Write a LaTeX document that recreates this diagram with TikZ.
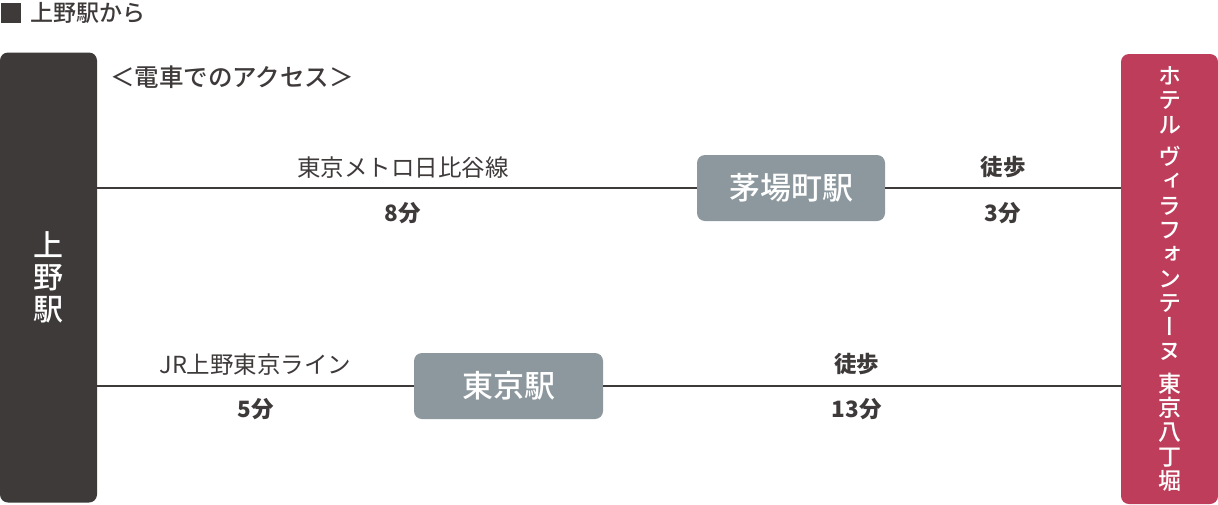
\documentclass[tikz,border=0pt]{standalone}
\usepackage{xcolor}
\usepackage{fontspec}
\usepackage{tikz}
\usetikzlibrary{positioning}
\setmainfont{Noto Sans CJK JP}
\newfontfamily\jpmedium{Noto Sans CJK JP Medium}
\newfontfamily\vertjp{Noto Sans CJK JP Medium}[RawFeature=+vert]
\definecolor{accessDark}{HTML}{3E3A39}
\definecolor{accessGray}{HTML}{8C989E}
\definecolor{accessRed}{HTML}{BE3D5A}

\begin{document}
\begin{tikzpicture}[
  x=1pt, y=-1pt,
  endbar/.style={rectangle, minimum width=97pt, minimum height=450pt, rounded corners=8pt, align=center, text=white, inner sep=0pt},
  stationbox/.style={rectangle, fill=accessGray, minimum width=188pt, minimum height=66pt, rounded corners=8pt, text=white, font=\jpmedium\fontsize{31}{31}\selectfont, inner sep=0pt},
  route/.style={draw=accessDark, line width=2pt},
  linelabel/.style={text=accessDark, font=\fontsize{23.5}{23.5}\selectfont, inner sep=0pt},
  timelabel/.style={text=accessDark, font=\fontsize{22.5}{22.5}\selectfont\bfseries, inner sep=0pt},
]
\useasboundingbox (0,0) rectangle (1218,504);

% Title
\node[fill=accessDark, minimum size=20pt, inner sep=0pt] (mark) at (11,12.5) {};
\node[right=9pt of mark, inner sep=0pt, text=accessDark, font=\jpmedium\fontsize{23}{23}\selectfont] (title) {上野駅から};
\node[anchor=west, inner sep=0pt, text=accessDark, font=\jpmedium\fontsize{24.5}{24.5}\selectfont] (heading) at (110,77) {＜電車でのアクセス＞};

% Start and goal
\node[endbar, fill=accessDark, font=\jpmedium\fontsize{30}{32}\selectfont] (ueno) at (48.5,277.5) {上\\野\\駅};
\node[endbar, fill=accessRed, font=\vertjp\fontsize{23}{24.3}\selectfont] (hotel) at (1169.5,279) {ホ\\テ\\ル\\[8pt]ヴ\\ィ\\ラ\\フ\\ォ\\ン\\テ\\ー\\ヌ\\[8pt]東\\京\\八\\丁\\堀};

% Transfer stations
\node[stationbox] (kayabacho) at (791,188) {茅場町駅};
\node[stationbox, minimum width=189pt] (tokyo) at (508.5,386) {東京駅};

% Routes
\draw[route] (kayabacho.west -| ueno.east) -- node[pos=0.51, above=9pt, linelabel] {東京メトロ日比谷線} node[pos=0.51, below=13pt, timelabel] {8分} (kayabacho.west);
\draw[route] (kayabacho.east) -- node[above=9pt, timelabel] {徒歩} node[below=13pt, timelabel] {3分} (kayabacho.east -| hotel.west);
\draw[route] (tokyo.west -| ueno.east) -- node[above=10pt, linelabel] {JR上野東京ライン} node[below=11pt, timelabel] {5分} (tokyo.west);
\draw[route] (tokyo.east) -- node[pos=0.49, above=10pt, timelabel] {徒歩} node[pos=0.49, below=11pt, timelabel] {13分} (tokyo.east -| hotel.west);

\end{tikzpicture}
\end{document}
